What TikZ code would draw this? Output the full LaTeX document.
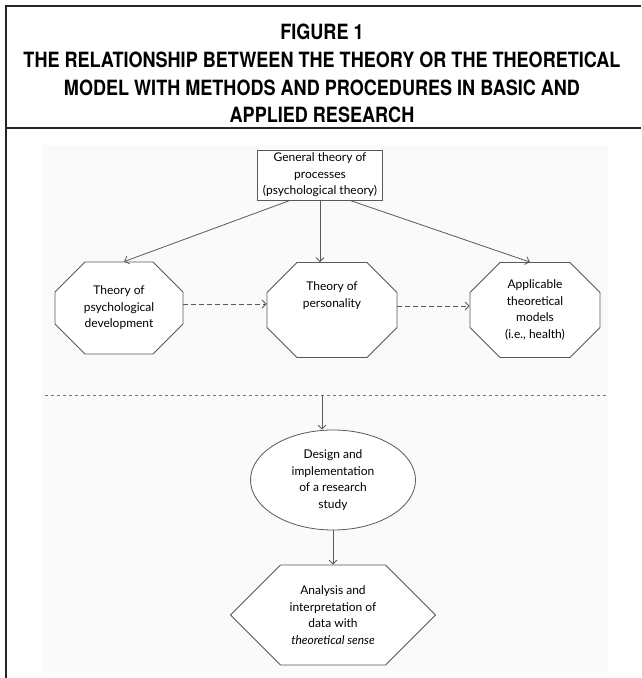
\documentclass[tikz,border=0pt]{standalone}
\usepackage{fontspec}
\setmainfont{Lato}
\newfontfamily\titlefont[FakeStretch=0.86]{TeX Gyre Heros}
\usetikzlibrary{shapes.misc,shapes.symbols,shapes.geometric,arrows.meta}

\begin{document}
\begin{tikzpicture}
  [x=1pt,y=-1pt,
   frameL/.style={line width=2.2pt,draw=black!85},
   titleN/.style={align=center,font=\titlefont\bfseries\fontsize{21}{27.7}\selectfont},
   plainN/.style={draw=black!65,thick,fill=white,align=center,font=\fontsize{12}{16.5}\selectfont},
   octN/.style={plainN,chamfered rectangle,chamfered rectangle angle=45,chamfered rectangle sep=15pt,minimum width=128pt,minimum height=92pt,inner sep=0pt},
   link/.style={draw=black!65,thick,-{Straight Barb[length=4pt,width=8pt]}},
   dashlink/.style={link,dash pattern=on 5pt off 3pt}]

  \useasboundingbox (0,0) rectangle (641,678);
  \fill[black!2] (42,145) rectangle (608,673);

  % frame and title
  \draw[frameL] (641,6) -- (6,6) -- (6,678);
  \draw[frameL] (6,128) -- (641,128);
  \node[titleN] (title) at (322,73.5)
    {FIGURE 1\\THE RELATIONSHIP BETWEEN THE THEORY OR THE THEORETICAL\\MODEL WITH METHODS AND PROCEDURES IN BASIC AND\\APPLIED RESEARCH};

  % theory level
  \node[plainN,rectangle,minimum width=125pt,minimum height=48pt,inner sep=3pt] (gt) at (320,175)
    {General theory of\\processes\\(psychological theory)};
  \node[octN] (dev) at (119,308) {Theory of\\psychological\\development};
  \node[octN,minimum width=130pt,minimum height=95pt] (pers) at (332,310) {Theory of\\personality\\[14pt]};
  \node[octN,minimum width=130pt,minimum height=95pt] (appl) at (535,310) {Applicable\\theoretical\\models\\(i.e., health)};

  \draw[link] ([xshift=-30pt]gt.south) -- ([xshift=5pt]dev.north);
  \draw[link] (gt.south) -- (gt.south |- pers.north);
  \draw[link] ([xshift=30pt]gt.south) -- ([xshift=-5pt]appl.north);
  \draw[dashlink] ([yshift=4pt]dev.east) -- ([yshift=4pt]dev.east -| pers.west);
  \draw[dashlink] ([yshift=4pt]pers.east) -- ([yshift=4pt]pers.east -| appl.west);

  % research level
  \draw[black!55,thick,dash pattern=on 3pt off 3pt] (45,395) -- (608,395);
  \coordinate (cut) at (322,395);

  \node[plainN,ellipse,minimum width=165pt,minimum height=100pt,inner sep=0pt] (study) at (333,480)
    {Design and\\implementation\\of a research\\study};
  \node[plainN,signal,signal to=east and west,signal pointer angle=90,minimum width=205pt,minimum height=100pt,inner sep=0pt] (data) at (333,615)
    {Analysis and\\interpretation of\\data with\\\textit{theoretical sense}};

  \draw[link] (cut) -- (cut |- study.north);
  \draw[link] (study.south) -- (data.north);

\end{tikzpicture}
\end{document}
